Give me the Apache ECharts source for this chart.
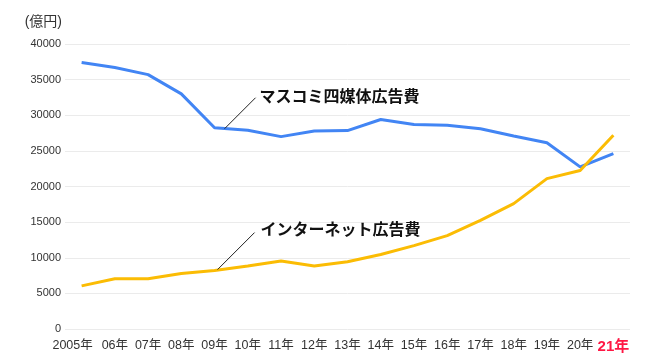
<!DOCTYPE html>
<html><head><meta charset="utf-8">
<script src="https://cdn.jsdelivr.net/npm/echarts@6/dist/echarts.min.js"></script>
<style>html,body{margin:0;padding:0;background:#fff}#c{width:651px;height:361px}</style>
</head><body><div id="c"></div>
<script>
const categories = ['2005年','06年','07年','08年','09年','10年','11年','12年','13年','14年','15年','16年','17年','18年','19年','20年','21年'];
const massMedia = [37400, 36700, 35700, 33000, 28250, 27900, 27000, 27800, 27850, 29400, 28700, 28600, 28100, 27100, 26150, 22750, 24600];
const internet = [6050, 7050, 7050, 7800, 8200, 8850, 9550, 8850, 9450, 10450, 11700, 13100, 15250, 17600, 21100, 22250, 27200];
const yTicks = [0, 5000, 10000, 15000, 20000, 25000, 30000, 35000, 40000];
const massLabel = 'マスコミ四媒体広告費';
const netLabel = 'インターネット広告費';
const FONT = '"Liberation Sans", "Noto Sans CJK JP", sans-serif';

const chart = echarts.init(document.getElementById('c'));
chart.setOption({
  animation: false,
  backgroundColor: '#fff',
  grid: {left: 65, right: 21, top: 44, bottom: 32, containLabel: false},
  xAxis: {
    type: 'category', data: categories, boundaryGap: true,
    axisLine: {show: false}, axisTick: {show: false}, splitLine: {show: false},
    axisLabel: {
      interval: 0, margin: 10, fontFamily: FONT, fontSize: 12.5, color: '#333',
      formatter: (v, i) => i === categories.length - 1 ? '{r|' + v + '}' : (i === 0 ? '{f|' + v + '}' : v),
      rich: {
        r: {color: '#ff1744', fontWeight: 'bold', fontSize: 15, fontFamily: FONT},
        f: {fontSize: 12.5, fontFamily: FONT, color: '#333', padding: [0, 18, 0, 0]}
      }
    }
  },
  yAxis: {
    type: 'value', min: yTicks[0], max: yTicks[yTicks.length - 1], interval: 5000,
    name: '(億円)', nameLocation: 'end', nameGap: 22,
    nameTextStyle: {fontFamily: FONT, fontSize: 14, color: '#333', align: 'right', verticalAlign: 'middle', padding: [0, 3, 0, 0]},
    axisLine: {show: false}, axisTick: {show: false},
    axisLabel: {fontFamily: FONT, fontSize: 11, color: '#333', margin: 4, formatter: v => String(v)},
    splitLine: {lineStyle: {color: '#ebebeb', width: 1}}
  },
  series: [
    {type: 'line', data: massMedia, symbol: 'none', lineStyle: {color: '#4285f4', width: 3}, itemStyle: {color: '#4285f4'}, z: 2},
    {type: 'line', data: internet, symbol: 'none', lineStyle: {color: '#fbbc04', width: 3}, itemStyle: {color: '#fbbc04'}, z: 3}
  ]
});

function annot(seriesIndex, idx, values, text, sx, sy, dx, dy, tx, ty) {
  const p = chart.convertToPixel({seriesIndex: seriesIndex}, [idx, values[idx]]);
  return [
    {type: 'line', shape: {x1: p[0] + sx, y1: p[1] + sy, x2: p[0] + dx, y2: p[1] + dy}, style: {stroke: '#222', lineWidth: 1}, z: 10},
    {type: 'text', x: p[0] + tx, y: p[1] + ty, style: {text: text, font: 'bold 16px "Noto Sans CJK JP", sans-serif', fill: '#111', textVerticalAlign: 'middle'}, z: 10}
  ];
}
chart.setOption({graphic: [].concat(
  annot(0, 4, massMedia, massLabel, 10, 1, 41, -30, 45, -32),
  annot(1, 4, internet, netLabel, 3, -1, 40, -38, 46, -42)
)});
</script></body></html>
